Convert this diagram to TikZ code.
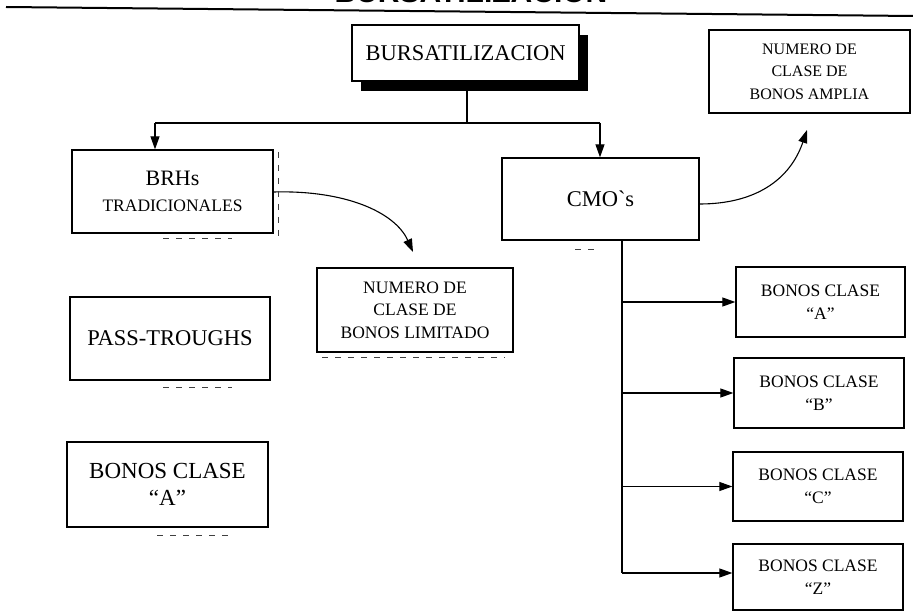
\documentclass[tikz,border=0pt]{standalone}
\usepackage{fontspec}
\setmainfont{Liberation Serif}
\newfontfamily\titlefont{Liberation Sans}
\usetikzlibrary{arrows.meta}

\tikzset{
  box/.style={draw, line width=1.3pt, rectangle, inner sep=0pt, align=center},
  link/.style={line width=1.1pt},
  arr/.style={line width=1.1pt, -{Triangle[length=13pt,width=9pt]}},
  ghost/.style={line width=1pt, dash pattern=on 6pt off 7pt, black!75},
  bigtxt/.style={font=\fontsize{22.5}{26}\selectfont},
  smalltxt/.style={font=\fontsize{17.5}{22.5}\selectfont},
  ampltxt/.style={font=\fontsize{16}{22.5}\selectfont},
}

\begin{document}
\begin{tikzpicture}[x=1pt, y=-1pt]
  \useasboundingbox (0,0) rectangle (913,612);
  \clip (0,0) rectangle (913,612);

  % heading, cut by the page edge, and its rule
  \node[anchor=base, inner sep=0pt, font=\titlefont\bfseries\fontsize{30}{32}\selectfont]
    (title) at (471,3) {BURSATILIZACION};
  \coordinate (ruleL) at (6,7);
  \coordinate (ruleR) at (913,16);
  \draw[line width=2pt] (ruleL) -- (ruleR);

  % main box with its solid shadow
  \fill (361,35) rectangle (588,91);
  \node[box, fill=white, minimum width=227pt, minimum height=56pt, bigtxt]
    (burs) at (465.5,53) {BURSATILIZACION};

  % first level
  \node[box, minimum width=201pt, minimum height=83pt, font=\fontsize{22}{26}\selectfont]
    (brhs) at (172.5,191.5) {BRHs\\[0pt]{\fontsize{17.5}{20}\selectfont TRADICIONALES}};
  \node[box, minimum width=197pt, minimum height=82pt, bigtxt]
    (cmo) at (600.5,199) {CMO\textasciigrave s};

  % left column
  \node[box, minimum width=200pt, minimum height=83pt, bigtxt]
    (pass) at (170,338.5) {PASS-TROUGHS};
  \node[box, minimum width=201pt, minimum height=85pt, font=\fontsize{23}{27}\selectfont]
    (bonosleft) at (167.5,484.5) {BONOS CLASE\\``A''};

  % description boxes
  \node[box, minimum width=196pt, minimum height=84pt, smalltxt]
    (limit) at (415,310) {NUMERO DE\\CLASE DE\\BONOS LIMITADO};
  \node[box, minimum width=201pt, minimum height=83pt, ampltxt]
    (amplia) at (809.5,71.5) {NUMERO DE\\CLASE DE\\BONOS AMPLIA};

  % classes issued by the CMO
  \node[box, minimum width=169pt, minimum height=70pt, smalltxt]
    (ra) at (820.5,302) {BONOS CLASE\\``A''};
  \node[box, minimum width=170pt, minimum height=70pt, smalltxt]
    (rb) at (819,393) {BONOS CLASE\\``B''};
  \node[box, minimum width=170pt, minimum height=69pt, smalltxt]
    (rc) at (818,486.5) {BONOS CLASE\\``C''};
  \node[box, minimum width=170pt, minimum height=66pt, smalltxt]
    (rz) at (818,577) {BONOS CLASE\\``Z''};

  % tree from the main box
  \coordinate (split) at (467,123);
  \coordinate (splitL) at (155,123);
  \coordinate (splitR) at (600,123);
  \draw[link] (burs.south -| split) -- (split);
  \draw[link] (splitL) -- (splitR);
  \draw[arr] (splitL) -- (splitL |- brhs.north);
  \draw[arr] (splitR) -- (splitR |- cmo.north);

  % curved connectors
  \coordinate (limitTip) at (413,252);
  \draw[arr] (brhs.east |- 0,192) .. controls (345,190) and (395,212) .. (limitTip);
  \coordinate (ampliaTip) at (807,130);
  \draw[arr] (cmo.east |- 0,204) .. controls (755,204) and (790,180) .. (ampliaTip);

  % branch from the CMO box
  \coordinate (spine) at (622,573);
  \draw[link] (cmo.south -| spine) -- (spine);
  \draw[arr] (spine |- ra.west) -- (ra.west);
  \draw[arr] (spine |- rb.west) -- (rb.west);
  \draw[arr] (spine |- rc.west) -- (rc.west);
  \draw[arr] (spine) -- (rz.west |- spine);

  % faint traces of shadows around some boxes
  \draw[ghost] (278,152) -- (278,236);
  \draw[ghost] (163,239) -- (232,239);
  \draw[ghost] (163,387) -- (232,387);
  \draw[ghost] (157,535) -- (230,535);
  \draw[ghost] (322,357) -- (505,357);
  \draw[ghost] (575,250) -- (597,250);
\end{tikzpicture}
\end{document}
